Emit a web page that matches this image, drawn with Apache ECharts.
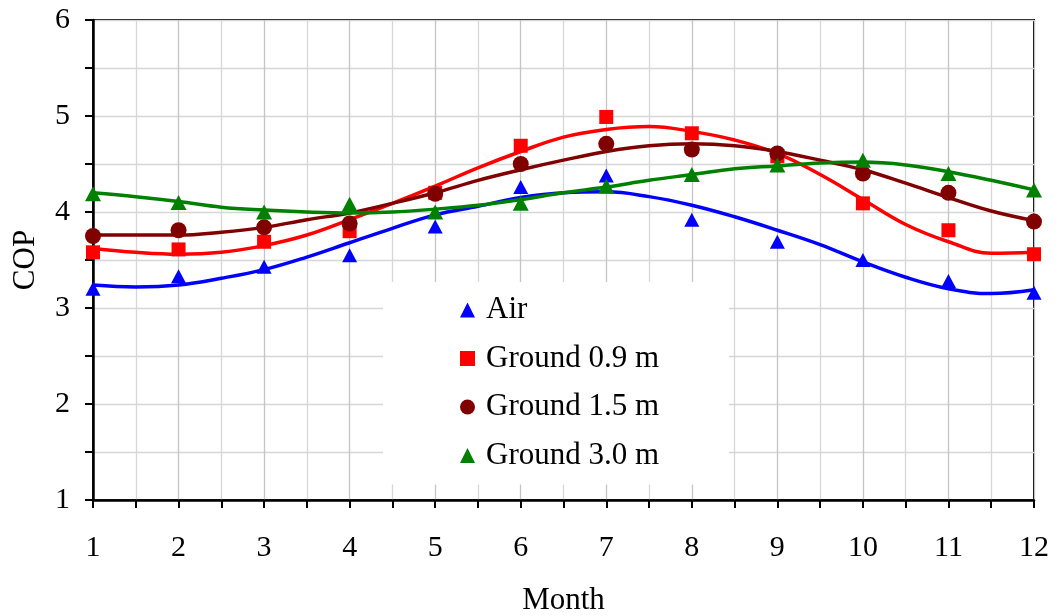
<!DOCTYPE html>
<html>
<head>
<meta charset="utf-8">
<script src="https://cdn.jsdelivr.net/npm/echarts@6/dist/echarts.min.js"></script>
<style>
html,body{margin:0;padding:0;background:#fff;}
#chart{width:1057px;height:616px;}
</style>
</head>
<body>
<div id="chart"></div>
<script>
// Measured data points (COP by month)
const months = [1,2,3,4,5,6,7,8,9,10,11,12];
const airCOP      = [3.20,3.33,3.43,3.55,3.85,4.26,4.38,3.92,3.69,3.50,3.28,3.16];
const ground09COP = [3.58,3.61,3.69,3.80,4.20,4.69,4.99,4.82,4.58,4.09,3.81,3.56];
const ground15COP = [3.75,3.81,3.84,3.88,4.19,4.50,4.71,4.65,4.61,4.40,4.20,3.90];
const ground30COP = [4.19,4.10,4.00,4.08,4.00,4.09,4.27,4.39,4.49,4.54,4.40,4.23];

// Trend curves at half-month positions
const trendMonths = [1,1.5,2,2.5,3,3.5,4,4.5,5,5.5,6,6.5,7,7.5,8,8.5,9,9.5,10,10.5,11,11.5,12];
const airTrend      = [3.24,3.22,3.24,3.31,3.40,3.53,3.68,3.83,3.97,4.06,4.15,4.20,4.21,4.16,4.07,3.95,3.81,3.66,3.48,3.32,3.20,3.15,3.19];
const ground09Trend = [3.62,3.58,3.56,3.58,3.65,3.76,3.92,4.09,4.27,4.46,4.63,4.78,4.86,4.89,4.84,4.75,4.61,4.39,4.13,3.87,3.69,3.57,3.58];
const ground15Trend = [3.76,3.76,3.76,3.79,3.84,3.92,3.99,4.09,4.20,4.33,4.44,4.54,4.63,4.69,4.71,4.69,4.63,4.54,4.44,4.30,4.15,4.01,3.91];
const ground30Trend = [4.20,4.16,4.11,4.05,4.02,4.00,3.99,4.00,4.03,4.07,4.13,4.20,4.26,4.33,4.39,4.45,4.48,4.51,4.52,4.49,4.42,4.33,4.23];

const seriesNames = ['Air','Ground 0.9 m','Ground 1.5 m','Ground 3.0 m'];
const colors = ['#0000ff','#ff0000','#800000','#008000'];
const symbols = ['triangle','rect','circle','triangle'];
const symbolSizes = [[15,14],[14,14],[16,16],[16,15]];
const pointSets = [airCOP, ground09COP, ground15COP, ground30COP];
const trendSets = [airTrend, ground09Trend, ground15Trend, ground30Trend];

const FONT = 'Liberation Serif';
const series = [];
trendSets.forEach((vals, i) => {
  series.push({
    name: seriesNames[i] + ' trend',
    type: 'line',
    data: trendMonths.map((m, k) => [m, vals[k]]),
    smooth: 0.4,
    showSymbol: false,
    symbol: 'none',
    lineStyle: {color: colors[i], width: 3.5},
    z: 2,
    silent: true
  });
});
pointSets.forEach((vals, i) => {
  series.push({
    name: seriesNames[i],
    type: 'scatter',
    data: months.map((m, k) => [m, vals[k]]),
    symbol: symbols[i],
    symbolSize: symbolSizes[i],
    itemStyle: {color: colors[i], opacity: 1},
    z: 3
  });
});

const chart = echarts.init(document.getElementById('chart'), null, {renderer: 'canvas'});
chart.setOption({
  backgroundColor: '#fff',
  animation: false,
  grid: {left: 93, right: 23, top: 20, bottom: 116, outerBoundsMode: 'none', containLabel: false,
         show: true, borderColor: '#000', borderWidth: 2, backgroundColor: 'transparent'},
  legend: {
    orient: 'vertical',
    left: 383, top: 282,
    padding: [12, 70, 13, 77],
    backgroundColor: '#fff',
    itemWidth: 15, itemHeight: 15,
    itemGap: 16.5,
    textStyle: {fontFamily: FONT, fontSize: 31, color: '#000', lineHeight: 32, padding: [0, 0, 0, 6]},
    data: seriesNames.map((n, i) => ({name: n, icon: symbols[i], itemStyle: {color: colors[i], opacity: 1}})),
    selectedMode: false
  },
  xAxis: {
    type: 'value', min: 1, max: 12, interval: 1,
    name: 'Month', nameLocation: 'middle', nameGap: 85,
    nameTextStyle: {fontFamily: FONT, fontSize: 31, color: '#000'},
    axisLine: {show: true, onZero: false, lineStyle: {color: '#000', width: 2.5}},
    axisTick: {show: true, inside: false, length: 8, lineStyle: {color: '#000', width: 2}},
    minorTick: {show: true, splitNumber: 2, length: 8, lineStyle: {color: '#000', width: 2}},
    axisLabel: {fontFamily: FONT, fontSize: 30, color: '#000', margin: 33},
    splitLine: {show: true, lineStyle: {color: '#c4c4c4', width: 1.3}},
    minorSplitLine: {show: true, lineStyle: {color: '#d6d6d6', width: 1.3}}
  },
  yAxis: {
    type: 'value', min: 1, max: 6, interval: 1,
    name: 'COP', nameLocation: 'middle', nameGap: 52,
    nameTextStyle: {fontFamily: FONT, fontSize: 31, color: '#000'},
    axisLine: {show: true, onZero: false, lineStyle: {color: '#000', width: 2.5}},
    axisTick: {show: true, inside: false, length: 8, lineStyle: {color: '#000', width: 2}},
    minorTick: {show: true, splitNumber: 2, length: 8, lineStyle: {color: '#000', width: 2}},
    axisLabel: {fontFamily: FONT, fontSize: 30, color: '#000', margin: 23},
    splitLine: {show: true, lineStyle: {color: '#d6d6d6', width: 1.3}},
    minorSplitLine: {show: true, lineStyle: {color: '#d6d6d6', width: 1.3}}
  },
  series: series
});
</script>
</body>
</html>
